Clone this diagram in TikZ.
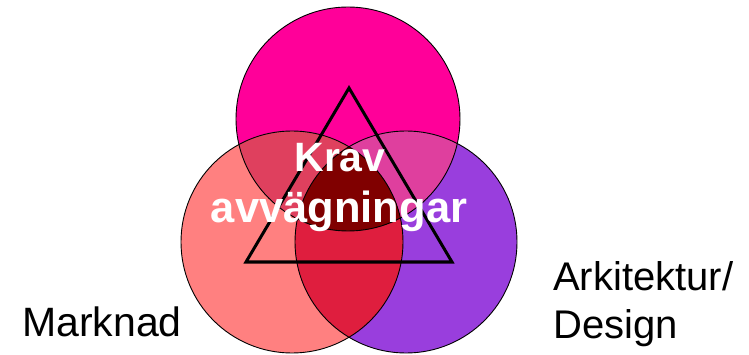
\documentclass[tikz,border=0pt]{standalone}
\usepackage{fontspec}
\setmainfont{Liberation Sans}
\definecolor{cTop}{HTML}{FF0099}
\definecolor{cLeft}{HTML}{FF8080}
\definecolor{cRight}{HTML}{993EDD}
\definecolor{cTL}{HTML}{DF405E}
\definecolor{cTR}{HTML}{DF3F9E}
\definecolor{cLR}{HTML}{DF1E3E}
\definecolor{cAll}{HTML}{800000}
\tikzset{
  outline/.style={draw=black,line width=0.9pt},
  tri/.style={draw=black,line width=3pt,line join=miter},
  center text/.style={text=white,font=\bfseries,anchor=base,inner sep=0pt},
  label text/.style={text=black,anchor=base west,inner sep=0pt,font=\fontsize{40}{48}\selectfont}
}
\begin{document}
\begin{tikzpicture}[x=1pt,y=-1pt]
\useasboundingbox (0,0) rectangle (749,355);
\def\topc{(348,119) circle[radius=112]}
\def\leftc{(292,242) circle[radius=111]}
\def\rightc{(406,242) circle[radius=111]}
% base fills
\fill[cTop] \topc;
\fill[cLeft] \leftc;
\fill[cRight] \rightc;
% pairwise intersections
\begin{scope}\clip \topc; \fill[cTL] \leftc; \end{scope}
\begin{scope}\clip \topc; \fill[cTR] \rightc; \end{scope}
\begin{scope}\clip \leftc; \fill[cLR] \rightc; \end{scope}
\begin{scope}\clip \topc; \clip \leftc; \fill[cAll] \rightc; \end{scope}
% outlines
\draw[outline] \topc;
\draw[outline] \leftc;
\draw[outline] \rightc;
% triangle
\coordinate (apex) at (349,88);
\coordinate (bl) at (246,262);
\coordinate (br) at (452,262);
\draw[tri] (apex) -- (bl) -- (br) -- cycle;
% texts
\node[center text,font=\bfseries\fontsize{41}{41}\selectfont] (krav) at (340,172) {Krav};
\node[center text,font=\bfseries\fontsize{43.5}{43.5}\selectfont] (avv) at (339,223) {avvägningar};
\node[label text,font=\fontsize{41}{48}\selectfont] (marknad) at (22,336) {Marknad};
\node[label text] (ark) at (553,290) {Arkitektur/};
\node[label text] (design) at (553,338) {Design};
\end{tikzpicture}
\end{document}
